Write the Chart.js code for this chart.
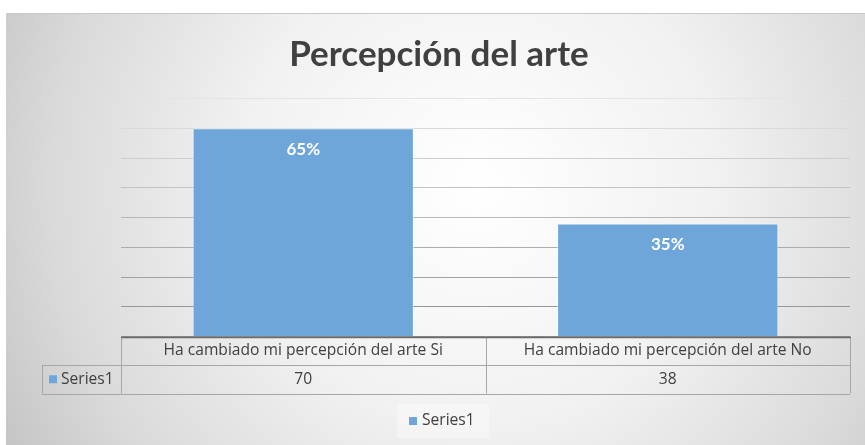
<!DOCTYPE html>
<html>
<head>
<meta charset="utf-8">
<script src="https://cdn.jsdelivr.net/npm/chart.js@4/dist/chart.umd.min.js"></script>
<style>
  body { margin: 0; background: #fff; }
  #wrap { position: absolute; left: 6px; top: 13px; width: 859px; height: 432px; }
</style>
</head>
<body>
<div id="wrap"><canvas id="chart" width="859" height="432"></canvas></div>
<script>
// data
var categories = ["Ha cambiado mi percepción del arte Si", "Ha cambiado mi percepción del arte No"];
var seriesName = "Series1";
var values = [70, 38];
var barLabels = ["65%", "35%"];

var TITLE_FONT = "Lato, sans-serif";
var FONT = "'Open Sans', sans-serif";
var TEXT = "#404040";
var BLUE = "#6fa6da";

// radial grey background, like the office preset
var background = {
  id: 'background',
  beforeDraw: function(chart) {
    var c = chart.ctx, w = chart.width, h = chart.height;
    var g = c.createRadialGradient(w * 0.55, h * 0.4, 0, w * 0.55, h * 0.4, w * 0.62);
    g.addColorStop(0, "#ffffff");
    g.addColorStop(0.45, "#f1f1f1");
    g.addColorStop(0.8, "#dadada");
    g.addColorStop(1, "#c6c6c6");
    c.save();
    c.fillStyle = g;
    c.fillRect(0, 0, w, h);
    c.strokeStyle = "#c8c8c8";
    c.lineWidth = 1;
    c.beginPath();
    c.moveTo(0, 0.5); c.lineTo(w, 0.5);
    c.stroke();
    c.restore();
  }
};

// percentages inside the bars
var barText = {
  id: 'barText',
  afterDatasetsDraw: function(chart) {
    var c = chart.ctx;
    var meta = chart.getDatasetMeta(0);
    c.save();
    c.fillStyle = "#ffffff";
    c.font = "bold 17px " + TITLE_FONT;
    c.textAlign = "center";
    c.textBaseline = "middle";
    meta.data.forEach(function(bar, i) {
      c.fillText(barLabels[i], bar.x, bar.y + 21);
    });
    c.restore();
  }
};

// data table under the plot + legend
var dataTable = {
  id: 'dataTable',
  afterDraw: function(chart) {
    var c = chart.ctx;
    var area = chart.chartArea;
    var xs = chart.scales.x;
    var top = area.bottom, rowH = 28.5;
    var left = area.left, right = area.right, keyLeft = 36;
    var mid = (xs.getPixelForValue(0) + xs.getPixelForValue(1)) / 2;

    c.save();
    c.strokeStyle = "#a6a6a6";
    c.lineWidth = 1;
    c.beginPath();
    // verticals
    [left, mid, right].forEach(function(x) {
      c.moveTo(Math.round(x) + 0.5, top); c.lineTo(Math.round(x) + 0.5, top + rowH * 2);
    });
    c.moveTo(keyLeft + 0.5, top + rowH); c.lineTo(keyLeft + 0.5, top + rowH * 2);
    // horizontals
    c.moveTo(keyLeft, Math.round(top + rowH) + 0.5); c.lineTo(right, Math.round(top + rowH) + 0.5);
    c.moveTo(keyLeft, Math.round(top + rowH * 2) + 0.5); c.lineTo(right, Math.round(top + rowH * 2) + 0.5);
    c.stroke();
    // axis line on top
    c.strokeStyle = "#6b6b6b";
    c.lineWidth = 1.5;
    c.beginPath();
    c.moveTo(left, Math.round(top) + 0.5); c.lineTo(right + 1, Math.round(top) + 0.5);
    c.stroke();

    c.fillStyle = TEXT;
    c.font = "15.6px " + FONT;
    c.textAlign = "center";
    c.textBaseline = "middle";
    categories.forEach(function(cat, i) {
      var x = xs.getPixelForValue(i);
      c.fillText(cat, x, top + rowH / 2);
      c.fillText(String(values[i]), x, top + rowH * 1.5);
    });
    c.textAlign = "left";
    c.fillStyle = BLUE;
    c.fillRect(keyLeft + 7, top + rowH * 1.5 - 4, 8, 8);
    c.fillStyle = TEXT;
    c.fillText(seriesName, keyLeft + 19, top + rowH * 1.5);

    // legend
    var ly = 408;
    c.fillStyle = "rgba(255,255,255,0.35)";
    c.fillRect(391, ly - 17, 92, 34);
    c.fillStyle = BLUE;
    c.fillRect(403, ly - 4, 8, 8);
    c.fillStyle = TEXT;
    c.fillText(seriesName, 416, ly);
    c.restore();
  }
};

new Chart(document.getElementById("chart"), {
  type: 'bar',
  data: {
    labels: categories,
    datasets: [{
      label: seriesName,
      data: values,
      backgroundColor: BLUE,
      borderColor: "rgba(255,255,255,0.45)",
      borderWidth: 1,
      barPercentage: 0.607,
      categoryPercentage: 1
    }]
  },
  options: {
    responsive: false,
    animation: false,
    layout: { padding: { left: 22, right: 15, top: 0, bottom: 108.5 } },
    plugins: {
      legend: { display: false },
      tooltip: { enabled: false },
      title: {
        display: true,
        text: "Percepción del arte",
        color: TEXT,
        font: { family: TITLE_FONT, size: 35, weight: 'bold' },
        padding: { top: 21, bottom: 22.5 }
      }
    },
    scales: {
      x: { display: false },
      y: {
        min: 0,
        max: 80,
        afterFit: function(scale) { scale.width = 93; },
        ticks: { display: false, stepSize: 10 },
        border: { display: false },
        grid: {
          drawTicks: false,
          color: function(ctx) {
            // lower lines come out darker in the original
            var shade = Math.round(140 + ctx.index * 11);
            return "rgb(" + shade + "," + shade + "," + shade + ")";
          }
        }
      }
    }
  },
  plugins: [background, barText, dataTable]
});
</script>
</body>
</html>
